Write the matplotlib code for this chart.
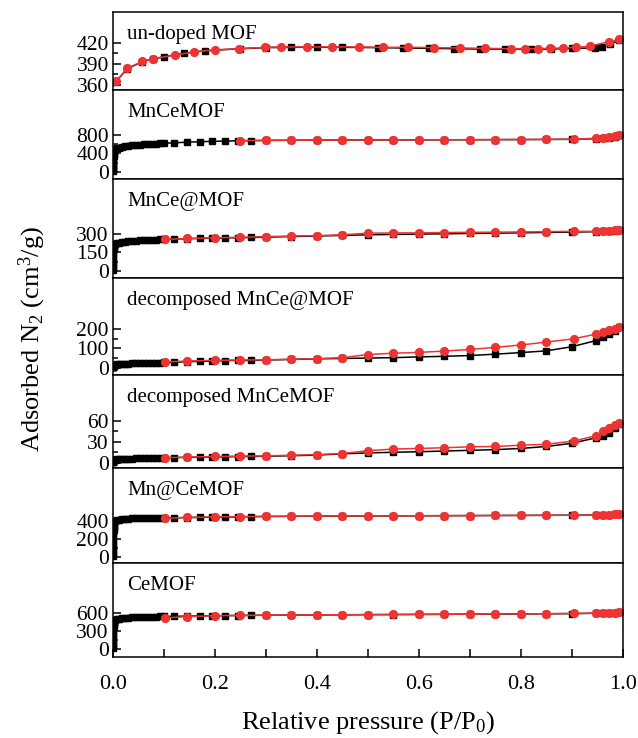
import matplotlib
matplotlib.use("Agg")
import matplotlib.pyplot as plt

plt.rcParams['font.family'] = ['Liberation Serif', 'DejaVu Serif']
plt.rcParams['mathtext.fontset'] = 'custom'
plt.rcParams['mathtext.rm'] = 'Liberation Serif'
plt.rcParams['mathtext.it'] = 'Liberation Serif:italic'

# sample names, top to bottom
names = ['un-doped MOF', 'MnCeMOF', 'MnCe@MOF', 'decomposed MnCe@MOF',
         'decomposed MnCeMOF', 'Mn@CeMOF', 'CeMOF']

# common pressure points for the adsorption branch (low + high range)
x_low = [0.0001, 0.0002, 0.0003, 0.0004, 0.0005, 0.0006, 0.0008, 0.001, 0.0013, 0.0016,
         0.002, 0.003, 0.005, 0.008, 0.012, 0.017, 0.023, 0.03, 0.037, 0.045, 0.053, 0.061,
         0.069, 0.077, 0.085, 0.093, 0.1]
x_high = [0.12, 0.145, 0.17, 0.195, 0.22, 0.245, 0.27, 0.3, 0.35, 0.4, 0.45, 0.5, 0.55,
          0.6, 0.65, 0.7, 0.75, 0.8, 0.85, 0.9, 0.948, 0.962, 0.973, 0.984, 0.993]
# desorption branch pressure points
x_des = [0.993, 0.984, 0.973, 0.962, 0.948, 0.904, 0.85, 0.8, 0.75, 0.7, 0.65, 0.6, 0.55,
         0.5, 0.45, 0.4, 0.35, 0.3, 0.25, 0.2, 0.146, 0.103]

# un-doped MOF has its own points
undoped_ads_x = [0.005, 0.028, 0.058, 0.078, 0.1, 0.139, 0.18, 0.25, 0.3, 0.35, 0.4, 0.45, 0.52,
                 0.57, 0.62, 0.67, 0.72, 0.77, 0.82, 0.86, 0.9, 0.945, 0.96, 0.975, 0.993]
undoped_ads = [364, 383, 393, 397, 400, 405, 408.5, 411.5, 413, 413.5, 413.5, 413.5, 413,
               412.5, 412, 411.5, 411, 411, 411, 411, 412, 412.5, 414, 417.5, 423.5]
undoped_des_x = [0.993, 0.973, 0.935, 0.908, 0.882, 0.857, 0.833, 0.808, 0.781, 0.73, 0.68,
                 0.629, 0.578, 0.53, 0.482, 0.43, 0.38, 0.33, 0.299, 0.248, 0.2, 0.16, 0.121,
                 0.078, 0.058, 0.028, 0.007]
undoped_des = [425, 421.5, 415, 413.5, 412.5, 412, 411.5, 411.5, 411.5, 412, 412.5, 413, 413.5,
               413.5, 414, 414, 414, 414, 413.5, 411.5, 410, 407, 402.5, 397, 393.5, 383.5, 366]

# MnCeMOF
mnce_low = [10, 40, 80, 120, 160, 200, 250, 300, 350, 390, 420, 455, 485, 505, 522, 538, 550,
            561, 571, 579, 587, 593, 599, 604, 609, 613, 617]
mnce_high = [626, 640, 649, 658, 664, 670, 674, 678, 682, 685, 687, 689, 690, 691, 692, 693,
             695, 697, 699, 702, 716, 725, 740, 760, 790]
mnce_des_x = [0.993, 0.984, 0.973, 0.962, 0.948, 0.904, 0.85, 0.8, 0.75, 0.7, 0.65, 0.6,
              0.55, 0.5, 0.45, 0.4, 0.35, 0.3, 0.25]
mnce_des = [795, 775, 755, 740, 725, 705, 700, 698, 696, 694, 692, 690, 689, 687, 686, 684,
            682, 679, 676]

# MnCe@MOF
mnceat_low = [5, 25, 50, 75, 100, 125, 150, 170, 185, 195, 200, 210, 218, 224, 229, 233, 237,
              240, 243, 245, 247, 249, 250, 251, 253, 254, 255]
mnceat_high = [257, 260, 262, 265, 267, 268, 270, 273, 278, 282, 287, 292, 295, 297, 300,
               303, 305, 308, 311, 314, 317, 319, 322, 325, 330]
mnceat_des = [332, 327, 324, 322, 320, 320, 317, 315, 313, 312, 310, 308, 307, 305, 292, 285,
              282, 277, 272, 268, 262, 255]

# decomposed MnCe@MOF
dec_at_low = [2, 3, 4, 5, 6, 7, 8, 9, 10, 11, 12, 14, 16, 18, 19, 20, 21, 22, 22.5, 23, 24,
              24.5, 25, 26, 26.5, 27, 28]
dec_at_high = [29, 31, 33, 35, 37, 38, 38, 40, 43, 46, 48, 50, 52, 56, 59, 63, 70, 78, 87,
               108, 140, 157, 173, 187, 208]
dec_at_des = [210, 200, 192, 183, 173, 149, 132, 117, 105, 94, 86, 79, 75, 68, 52, 47, 44,
              41, 40, 38, 35, 30]

# decomposed MnCeMOF
dec_low = [1.0, 1.5, 2.0, 2.3, 2.6, 2.9, 3.2, 3.5, 3.7, 3.9, 4.0, 4.4, 4.8, 5.1, 5.4, 5.6,
           5.8, 6.0, 6.2, 6.4, 6.5, 6.7, 6.8, 7.0, 7.1, 7.2, 7.3]
dec_high = [7.6, 7.9, 8.2, 8.5, 8.8, 9.0, 9.2, 9.6, 10.3, 11.2, 13, 14.3, 15.2, 16, 17, 18,
            19, 20.7, 23.5, 28, 36, 39, 43, 50, 56]
dec_des = [57.6, 54, 50, 45, 39, 31.3, 26.7, 25.3, 23.5, 23, 21.7, 20.7, 19.8, 17.5, 13.4,
           12, 11, 10.1, 9.7, 9.2, 8.3, 7.4]

# Mn@CeMOF
mnat_low = [10, 40, 75, 110, 150, 190, 230, 270, 300, 325, 345, 375, 395, 405, 412, 417, 421,
            424, 426, 428, 429, 430, 431, 432, 432, 433, 433]
mnat_high = [434, 436, 438, 440, 442, 444, 446, 448, 450, 452, 453, 454, 455, 456, 457, 458,
             459, 460, 461, 462, 464, 467, 470, 474, 478]
mnat_des = [480, 474, 470, 467, 464, 462, 461, 460, 459, 458, 457, 456, 455, 455, 454, 453,
            451, 449, 447, 444, 437, 428]

# CeMOF
ce_low = [10, 45, 90, 140, 190, 240, 290, 340, 380, 410, 430, 455, 478, 492, 502, 510, 516,
          520, 524, 527, 530, 532, 534, 536, 538, 539, 540]
ce_high = [540, 545, 548, 551, 553, 555, 557, 559, 562, 565, 567, 569, 571, 573, 575, 577,
           579, 581, 584, 587, 592, 596, 600, 604, 608]
ce_des = [610, 605, 601, 598, 595, 589, 585, 582, 580, 578, 576, 574, 572, 570, 568, 566,
          563, 560, 557, 552, 537, 515]

ads_x = [undoped_ads_x] + [x_low + x_high] * 6
ads_y = [undoped_ads, mnce_low + mnce_high, mnceat_low + mnceat_high,
         dec_at_low + dec_at_high, dec_low + dec_high, mnat_low + mnat_high, ce_low + ce_high]
des_x = [undoped_des_x, mnce_des_x] + [x_des] * 5
des_y = [undoped_des, mnce_des, mnceat_des, dec_at_des, dec_des, mnat_des, ce_des]

ylims = [(353, 464), (-150, 1770), (-57, 746), (-36, 462), (-7, 126), (-67, 989), (-135, 1435)]
major = [[360, 390, 420], [0, 400, 800], [0, 150, 300], [0, 100, 200], [0, 30, 60],
         [0, 200, 400], [0, 300, 600]]
minor = [[375, 405], [200, 600], [75, 225], [50, 150], [15, 45], [100, 300], [150, 450]]

red = '#ee3333'

fig, axes = plt.subplots(7, 1, figsize=(6.38, 7.38), dpi=100, sharex=True,
                         gridspec_kw={'height_ratios': [78, 89, 99, 97, 93, 95, 94]})
fig.subplots_adjust(left=0.177, right=0.976, top=0.984, bottom=0.11, hspace=0)

for i, ax in enumerate(axes):
    ax.plot(ads_x[i], ads_y[i], color='black', marker='s', markersize=4.3, linewidth=1.1)
    ax.plot(des_x[i], des_y[i], color=red, marker='o', markersize=5.6, linewidth=1.1)
    ax.set_ylim(ylims[i])
    ax.set_yticks(major[i])
    ax.set_yticks(minor[i], minor=True)
    ax.tick_params(axis='y', which='major', direction='in', length=6, width=1.1,
                   labelsize=15.5, pad=3)
    ax.tick_params(axis='y', which='minor', direction='in', length=3.5, width=1.1)
    for s in ax.spines.values():
        s.set_linewidth(1.1)
    ax.annotate(names[i], xy=(0.028, 1), xycoords='axes fraction', xytext=(0, -23),
                textcoords='offset pixels', va='center', ha='left', fontsize=15)
    if i < 6:
        ax.tick_params(axis='x', which='both', bottom=False, labelbottom=False)

ax = axes[-1]
ax.set_xlim(0, 1.0)
ax.set_xticks([0.0, 0.2, 0.4, 0.6, 0.8, 1.0])
ax.set_xticks([0.1, 0.3, 0.5, 0.7, 0.9], minor=True)
ax.set_xticklabels(['0.0', '0.2', '0.4', '0.6', '0.8', '1.0'])
ax.tick_params(axis='x', which='both', direction='in', length=6, width=1.1,
               labelsize=16, pad=13)
ax.set_xlabel('Relative pressure (P/P$_0$)', fontsize=19, labelpad=11)

fig.text(0.05, 0.54, 'Adsorbed N$_2$ (cm$^3$/g)', rotation=90, fontsize=19,
         va='center', ha='center')

fig.savefig('out.png', dpi=100)
